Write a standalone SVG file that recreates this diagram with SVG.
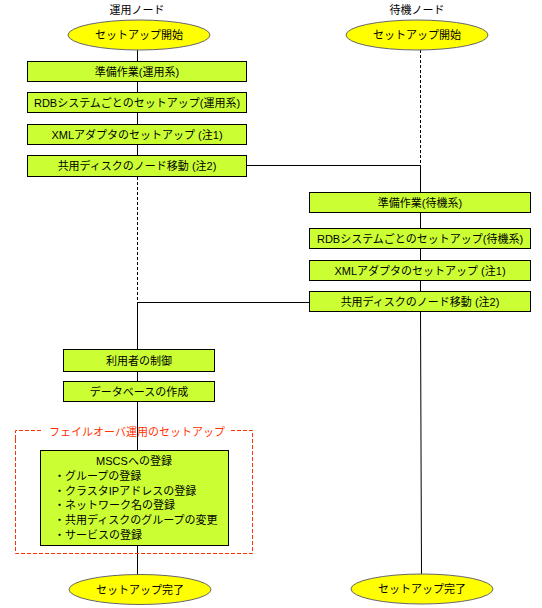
<svg xmlns="http://www.w3.org/2000/svg" width="542" height="608" viewBox="0 0 542 608">
<style>
text{font-family:"Liberation Sans","Noto Sans CJK JP",sans-serif;font-size:11px;fill:#000}
.c{text-anchor:middle}
.box{fill:#CCFF33;stroke:#000;stroke-width:1}
.ell{fill:#FFFF00;stroke:#666;stroke-width:1}
.ln{stroke:#000;stroke-width:1;fill:none}
.dl{stroke:#000;stroke-width:1;fill:none;stroke-dasharray:3,2}
</style>
<rect width="542" height="608" fill="#fff"/>
<g id="connectors">
<line class="ln" x1="137.5" y1="50" x2="137.5" y2="61"/>
<line class="ln" x1="137.5" y1="81" x2="137.5" y2="92"/>
<line class="ln" x1="137.5" y1="113" x2="137.5" y2="124"/>
<line class="ln" x1="137.5" y1="145" x2="137.5" y2="155"/>
<line class="dl" x1="137.5" y1="177" x2="137.5" y2="302"/>
<line class="ln" x1="137.5" y1="302" x2="137.5" y2="349"/>
<line class="ln" x1="137.5" y1="372" x2="137.5" y2="382"/>
<line class="ln" x1="137.5" y1="402" x2="137.5" y2="450"/>
<line class="ln" x1="137.5" y1="545" x2="137.5" y2="575"/>
<line class="ln" x1="247" y1="165.5" x2="420.5" y2="165.5"/>
<line class="ln" x1="137.5" y1="302.5" x2="309" y2="302.5"/>
<line class="dl" x1="420.5" y1="50" x2="420.5" y2="165"/>
<line class="ln" x1="420.5" y1="165" x2="420.5" y2="192"/>
<line class="ln" x1="420.5" y1="213" x2="420.5" y2="228"/>
<line class="ln" x1="420.5" y1="249" x2="420.5" y2="260"/>
<line class="ln" x1="420.5" y1="281" x2="420.5" y2="291"/>
<line class="ln" x1="420.5" y1="312" x2="421.5" y2="574"/>
</g>
<g id="label-active"><text class="c" x="137" y="14">運用ノード</text></g>
<g id="label-standby"><text class="c" x="417" y="14">待機ノード</text></g>
<g id="start-active"><ellipse class="ell" cx="139" cy="35" rx="71" ry="15"/><text class="c" x="139" y="39">セットアップ開始</text></g>
<g id="start-standby"><ellipse class="ell" cx="417" cy="35" rx="71" ry="15"/><text class="c" x="417" y="39">セットアップ開始</text></g>
<g id="a1"><rect class="box" x="27.5" y="61.5" width="219" height="20"/><text class="c" x="137" y="75.5">準備作業(運用系)</text></g>
<g id="a2"><rect class="box" x="27.5" y="92.5" width="219" height="20"/><text class="c" x="137" y="106.5">RDBシステムごとのセットアップ(運用系)</text></g>
<g id="a3"><rect class="box" x="27.5" y="124.5" width="219" height="20"/><text class="c" x="137" y="138.5">XMLアダプタのセットアップ (注1)</text></g>
<g id="a4"><rect class="box" x="27.5" y="155.5" width="219" height="21"/><text class="c" x="137" y="170">共用ディスクのノード移動 (注2)</text></g>
<g id="s1"><rect class="box" x="309.5" y="192.5" width="221" height="20"/><text class="c" x="420" y="206.5">準備作業(待機系)</text></g>
<g id="s2"><rect class="box" x="309.5" y="228.5" width="221" height="20"/><text class="c" x="420" y="242.5">RDBシステムごとのセットアップ(待機系)</text></g>
<g id="s3"><rect class="box" x="309.5" y="260.5" width="221" height="20"/><text class="c" x="420" y="274.5">XMLアダプタのセットアップ (注1)</text></g>
<g id="s4"><rect class="box" x="309.5" y="291.5" width="221" height="20"/><text class="c" x="420" y="305.5">共用ディスクのノード移動 (注2)</text></g>
<g id="a5"><rect class="box" x="63.5" y="349.5" width="151" height="22"/><text class="c" x="139" y="364.5">利用者の制御</text></g>
<g id="a6"><rect class="box" x="63.5" y="381.5" width="151" height="20"/><text class="c" x="139" y="395.5">データベースの作成</text></g>
<g id="failover">
<path d="M15.5,439 V430.5 H43 M231,430.5 H252.5 V553.5 H15.5 V439" fill="none" stroke="#FF3300" stroke-width="1" stroke-dasharray="4,2"/>
<text class="c" x="137" y="436" style="fill:#FF3300">フェイルオーバ運用のセットアップ</text>
</g>
<g id="mscs"><rect class="box" x="40.5" y="450.5" width="188" height="95"/>
<text class="c" x="134" y="465">MSCSへの登録</text>
<text x="54" y="480">・グループの登録</text>
<text x="54" y="495">・クラスタIPアドレスの登録</text>
<text x="54" y="509">・ネットワーク名の登録</text>
<text x="54" y="524">・共用ディスクのグループの変更</text>
<text x="54" y="539">・サービスの登録</text>
</g>
<g id="end-active"><ellipse class="ell" cx="140" cy="589.5" rx="71" ry="15"/><text class="c" x="140" y="593.5">セットアップ完了</text></g>
<g id="end-standby"><ellipse class="ell" cx="422" cy="589" rx="71" ry="15"/><text class="c" x="422" y="593">セットアップ完了</text></g>
</svg>
